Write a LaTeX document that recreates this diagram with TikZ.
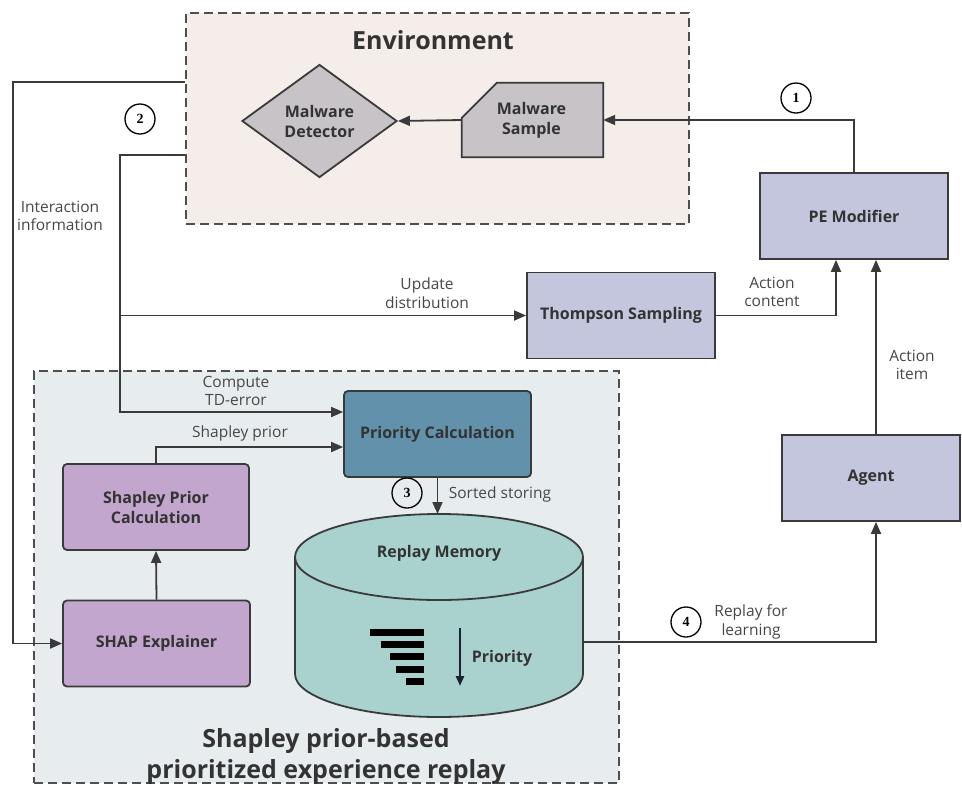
\documentclass[tikz,border=0pt]{standalone}
\usepackage{fontspec}
\setmainfont{Open Sans}
\newfontfamily\numfont{Liberation Serif}
\usetikzlibrary{arrows.meta,shapes.geometric,calc}

\definecolor{envfill}{HTML}{F4EDE9}
\definecolor{sperfill}{HTML}{E7ECEF}
\definecolor{grayfill}{HTML}{C7C3C7}
\definecolor{bluefill}{HTML}{C3C6DC}
\definecolor{prifill}{HTML}{6291AC}
\definecolor{purfill}{HTML}{C2A6CE}
\definecolor{memfill}{HTML}{A9D2CE}
\definecolor{linec}{HTML}{3A3A3A}
\definecolor{textc}{HTML}{333333}
\definecolor{navyc}{HTML}{1A2233}

\tikzset{
  wire/.style={draw=linec, line width=1.8pt},
  conn/.style={wire, -{Triangle[length=12pt,width=10pt]}},
  region/.style={draw=linec!90, line width=1.8pt, dash pattern=on 9pt off 5pt, inner sep=0pt},
  boxbase/.style={draw=linec, line width=1.8pt, align=center, text=textc,
    font=\bfseries\fontsize{16}{20}\selectfont, inner sep=2pt},
  bluebox/.style={boxbase, fill=bluefill, minimum width=188pt, minimum height=86pt},
  roundbox/.style={boxbase, rounded corners=4pt, minimum width=187pt, minimum height=86pt},
  lbl/.style={font=\fontsize{15.5}{18.5}\selectfont, text=textc!90, align=center, inner sep=0pt},
  numc/.style={circle, draw=black, line width=1.3pt, minimum size=30pt, inner sep=0pt,
    font=\numfont\bfseries\fontsize{14}{14}\selectfont},
  bigtitle/.style={font=\bfseries\fontsize{25}{31}\selectfont, text=textc, align=center, inner sep=0pt},
}

\begin{document}
\begin{tikzpicture}[x=1pt, y=-1pt]
  \useasboundingbox (0,0) rectangle (962,785);
  \fill[white] (0,0) rectangle (962,785);

  % dashed regions
  \node[region, fill=envfill, minimum width=503pt, minimum height=211pt] (env) at (437.5,118.5) {};
  \node[region, fill=sperfill, minimum width=585pt, minimum height=412pt] (sper) at (326.5,577) {};
  \node[bigtitle] (envtitle) at (433,40) {Environment};
  \node[bigtitle] (spertitle) at (326,756) {Shapley prior-based\\prioritized experience replay};

  % environment contents
  \node[boxbase, diamond, fill=grayfill, minimum width=155pt, minimum height=113pt, aspect=1.37, inner sep=0pt] (det) at (319.5,121) {Malware\\Detector};
  % sample: box with a cut top-left corner
  \node[inner sep=0pt, minimum width=141pt, minimum height=74pt] (sample) at (532.5,120) {};
  \draw[wire, fill=grayfill] (sample.south west) -- ([yshift=-35pt]sample.north west)
    -- ([xshift=35pt]sample.north west) -- (sample.north east) -- (sample.south east) -- cycle;
  \node[boxbase, draw=none] (sampletxt) at ([xshift=-1pt]sample.center) {Malware\\Sample};

  % right column
  \node[bluebox] (pe) at (854,216) {PE Modifier};
  \node[bluebox] (ts) at (621,315.5) {Thompson Sampling};
  \node[bluebox, minimum width=178pt] (agent) at (871,478) {Agent};

  % prioritized replay contents
  \node[roundbox, fill=prifill] (prio) at (437.5,434) {Priority Calculation};
  \node[roundbox, fill=purfill, minimum width=186pt] (spc) at (156,507) {Shapley Prior\\Calculation};
  \node[roundbox, fill=purfill] (shap) at (156.5,643.5) {SHAP Explainer};

  % replay memory cylinder
  \fill[memfill] (295,557) rectangle (583,674);
  \fill[memfill] (439,674) ellipse [x radius=144, y radius=43];
  \begin{scope}
    \clip (285,674) rectangle (595,725);
    \draw[wire] (439,674) ellipse [x radius=144, y radius=43];
  \end{scope}
  \draw[wire, fill=memfill] (439,557) ellipse [x radius=144, y radius=43];
  \draw[wire] (295,557) -- (295,674);
  \draw[wire] (583,557) -- (583,674);
  \coordinate (memtop) at (439,514);
  \coordinate (memright) at (583,642);
  \node[boxbase, draw=none] (memlbl) at (439,553) {Replay Memory};

  % priority bars
  \foreach \l/\yy in {370/632, 381/644, 390/656, 396/669, 406/681}
    \fill[black] (\l,\yy-3.5) rectangle (424,\yy+3.5);
  \coordinate (pa) at (460,628);
  \coordinate (pb) at (460,686);
  \draw[navyc, line width=2.6pt, -{Triangle[length=10pt,width=8pt]}] (pa) -- (pb);
  \node[boxbase, draw=none] (prilbl) at (502,658) {Priority};

  % connectors
  \draw[conn] (sample.west) -- (det.east);
  \draw[conn] (pe.north) |- (sample.east);
  \draw[conn] (ts.east) -| ([xshift=-18pt]pe.south);
  \draw[conn] ([xshift=5pt]agent.north) -- ([xshift=5pt]agent.north |- pe.south);
  \draw[conn] (memright) -| ([xshift=5pt]agent.south);
  \draw[conn] (env.west |- 0,82) -- (13,82) |- (shap.west);
  \coordinate (split) at (120,315.5);
  \draw[conn] (env.west |- 0,155) -| (120,412) -- (prio.west |- 0,412);
  \draw[conn] (split) -- (ts.west);
  \draw[conn] (spc.north) |- (prio.west |- 0,447);
  \draw[conn] (shap.north) -- (spc.south);
  \draw[conn] (prio.south) -- (prio.south |- memtop);

  % labels
  \node[lbl] (l1) at (60,216) {Interaction\\information};
  \node[lbl] (l2) at (427,293) {Update\\distribution};
  \node[lbl] (l3) at (772,292) {Action\\content};
  \node[lbl] (l4) at (912,365) {Action\\item};
  \node[lbl] (l5) at (236,391) {Compute\\TD-error};
  \node[lbl] (l6) at (240,433) {Shapley prior};
  \node[lbl] (l7) at (500,494) {Sorted storing};
  \node[lbl] (l8) at (751,622) {Replay for\\learning};

  % step numbers
  \node[numc] (n1) at (796,98) {1};
  \node[numc] (n2) at (140,119) {2};
  \node[numc] (n3) at (407,493) {3};
  \node[numc] (n4) at (686,622) {4};
\end{tikzpicture}
\end{document}
